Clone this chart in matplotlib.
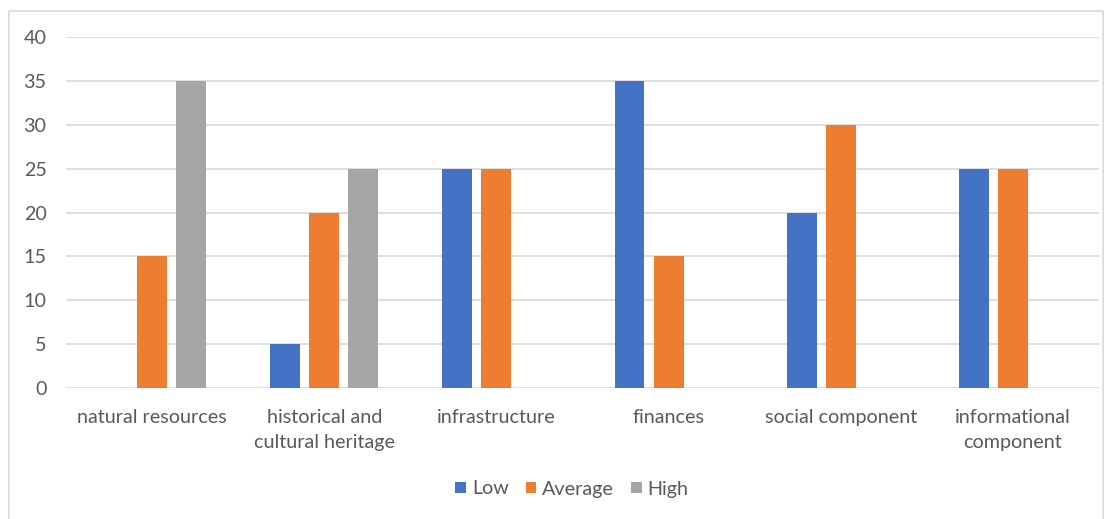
import numpy as np
import matplotlib.pyplot as plt
from matplotlib.patches import Rectangle

categories = ["natural resources", "historical and\ncultural heritage", "infrastructure",
              "finances", "social component", "informational\ncomponent"]
low = [0, 5, 25, 35, 20, 25]
average = [15, 20, 25, 15, 30, 25]
high = [35, 25, 0, 0, 0, 0]
series_names = ["Low", "Average", "High"]
colors = ["#4472C4", "#ED7D31", "#A5A5A5"]

plt.rcParams['font.family'] = ['Lato', 'DejaVu Sans']
text_color = "#595959"
fs = 14.2

fig = plt.figure(figsize=(11.15, 5.19), dpi=100)
W, H = 1115, 519
ax = fig.add_axes([66 / W, 1 - 388 / H, (1099 - 66) / W, (388 - 37) / H])

# outer chart frame
fig.patches.append(Rectangle((9 / W, -0.05), (1103 - 9) / W, 1 - 11 / H + 0.05,
                             transform=fig.transFigure, fill=False,
                             edgecolor="#d9d9d9", linewidth=1.2))

x = np.arange(len(categories))
width = 0.174
step = 0.227
for i, (vals, name, c) in enumerate(zip([low, average, high], series_names, colors)):
    ax.bar(x + (i - 1) * step, vals, width, color=c, label=name, zorder=3)

ax.set_xlim(-0.5, len(categories) - 0.5)
ax.set_ylim(0, 40)
ax.set_yticks(range(0, 41, 5))
ax.grid(axis='y', color="#d9d9d9", linewidth=1.2, zorder=0)
for s in ax.spines.values():
    s.set_visible(False)
ax.tick_params(axis='both', length=0, colors=text_color, labelsize=fs)
ax.tick_params(axis='y', pad=14)
ax.tick_params(axis='x', pad=15)
ax.set_xticks(x)
ax.set_xticklabels(categories, linespacing=1.55)

leg = fig.legend(loc='center', bbox_to_anchor=(572 / W, 1 - 489 / H), ncol=3,
                 frameon=False, fontsize=fs, handlelength=0.55, handleheight=0.55,
                 handletextpad=0.3, columnspacing=0.85)
for t in leg.get_texts():
    t.set_color(text_color)

fig.savefig("out.png", dpi=100)
